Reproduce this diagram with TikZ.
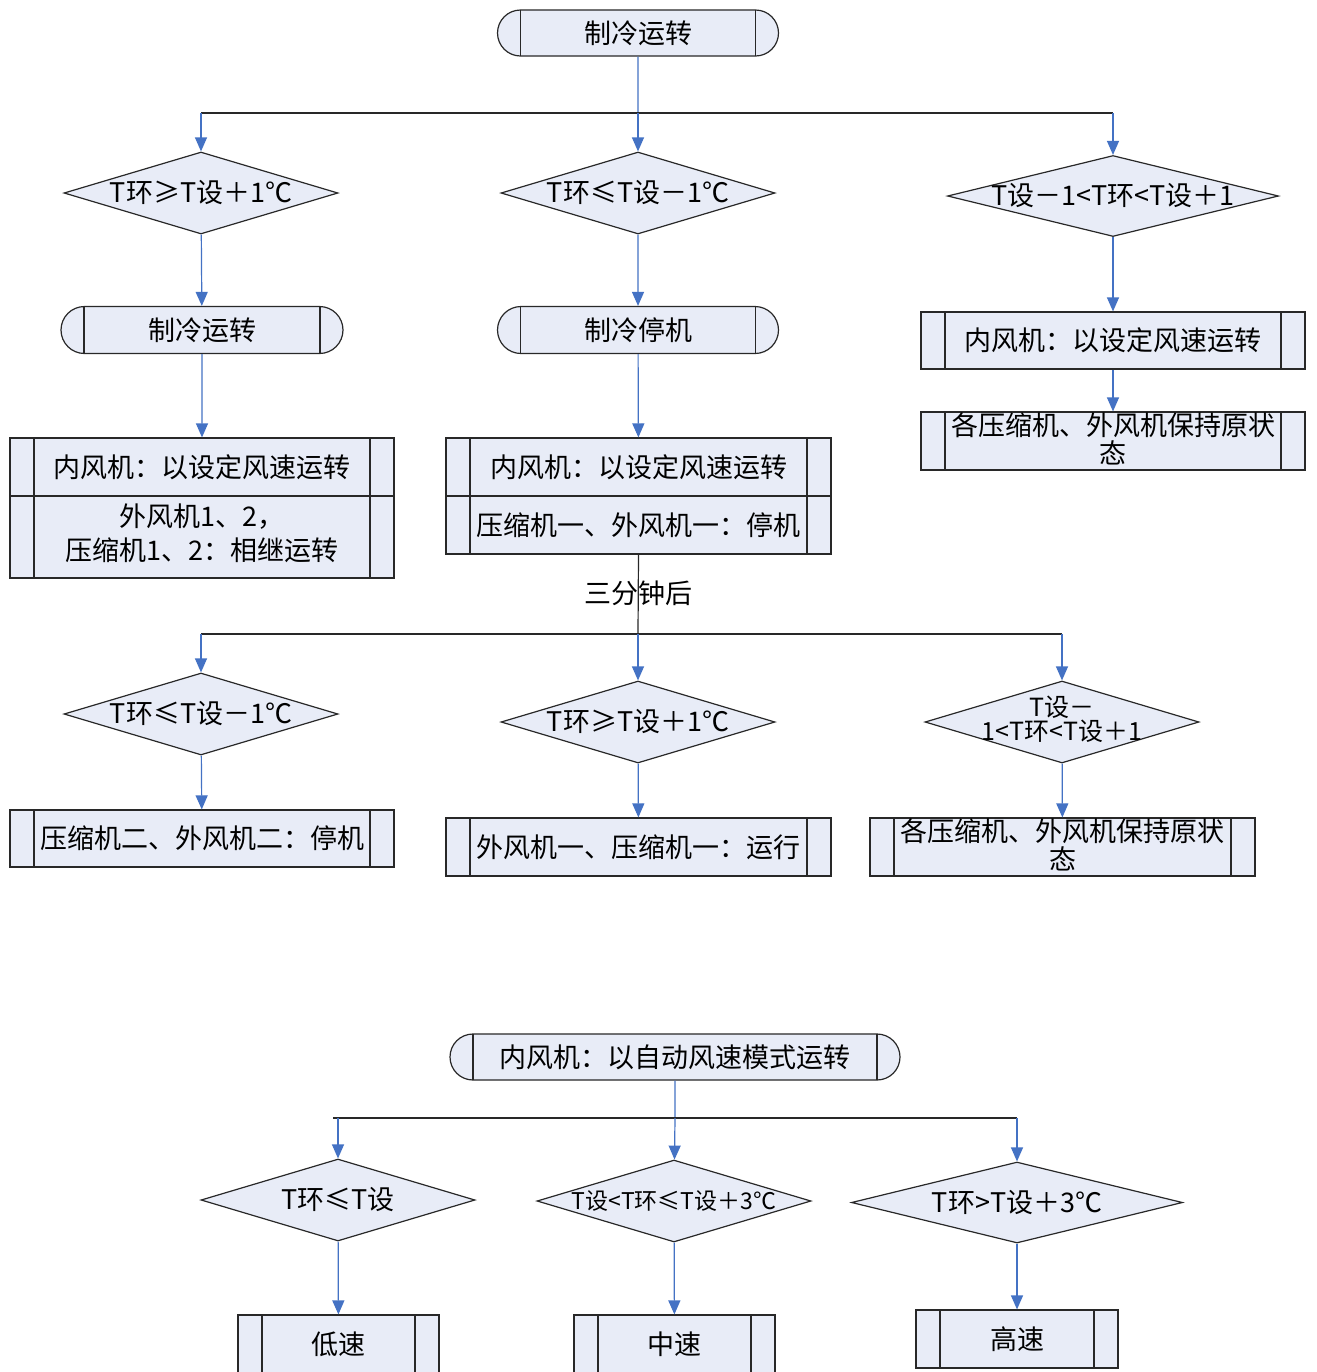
\documentclass[tikz,border=0pt]{standalone}
\usepackage{fontspec}
\setmainfont{Noto Sans CJK SC}
\usetikzlibrary{shapes.geometric,shapes.misc,arrows.meta}
\definecolor{fillc}{RGB}{232,236,247}
\definecolor{bluec}{RGB}{68,114,196}
\definecolor{linec}{RGB}{40,40,40}
\tikzset{
  x=0.5pt, y=-0.5pt,
  every node/.style={font=\fontsize{13.5pt}{17pt}\selectfont, text=black},
  term/.style={rounded rectangle, draw=linec, line width=0.6pt, fill=fillc, inner sep=0pt, minimum height=23pt,
    path picture={\draw[linec, line width=0.6pt]
      ([xshift=11.5pt]path picture bounding box.north west) -- ([xshift=11.5pt]path picture bounding box.south west)
      ([xshift=-11.5pt]path picture bounding box.north east) -- ([xshift=-11.5pt]path picture bounding box.south east);}},
  proc/.style={rectangle, draw=linec, line width=0.6pt, fill=fillc, inner sep=0pt, align=center,
    path picture={\draw[linec, line width=0.6pt]
      ([xshift=12pt]path picture bounding box.north west) -- ([xshift=12pt]path picture bounding box.south west)
      ([xshift=-12pt]path picture bounding box.north east) -- ([xshift=-12pt]path picture bounding box.south east);}},
  dia/.style={diamond, draw=linec, line width=0.6pt, fill=fillc, inner sep=0pt, minimum width=137pt, minimum height=41pt},
  conn/.style={draw=bluec, line width=0.6pt, -{Triangle[width=6pt,length=7pt]}},
  vline/.style={draw=bluec, line width=0.6pt},
  hline/.style={draw=linec, line width=0.6pt},
}
\begin{document}
\begin{tikzpicture}
\useasboundingbox[fill=white] (0,0) rectangle (1317,1372);

% ---------- top part ----------
\node[term, minimum width=140.5pt] (t0) at (638,33) {制冷运转};
\coordinate (j1) at (638,113);
\coordinate (j1l) at (201,113);
\coordinate (j1r) at (1113,113);

\node[dia] (d1) at (201,193) {\makebox[0pt]{T环≥T设＋1℃}};
\node[dia] (d2) at (638,193) {\makebox[0pt]{T环≤T设－1℃}};
\node[dia, minimum width=165.5pt, minimum height=40.5pt] (d3) at (1113,196) {\makebox[0pt]{T设－1<T环<T设＋1}};

\node[term, minimum width=141pt, minimum height=23.5pt] (t1) at (202,330) {制冷运转};
\node[term, minimum width=140.5pt, minimum height=23.5pt] (t2) at (638,330) {制冷停机};
\node[proc, minimum width=192pt, minimum height=28.5pt] (p3) at (1113,340.5) {内风机：以设定风速运转};
\node[proc, minimum width=192pt, minimum height=29pt] (p4) at (1113,441)
  {\smash{\raisebox{-4.5pt}{\begin{tabular}{@{}c@{}}各压缩机、外风机保持原状\\[-3pt]态\end{tabular}}}};

\node[proc, minimum width=192pt, minimum height=29pt] (pL1) at (202,467) {内风机：以设定风速运转};
\node[proc, minimum width=192pt, minimum height=41pt] (pL2) at (202,537)
  {\begin{tabular}{@{}c@{}}外风机1、2，\\压缩机1、2：相继运转\end{tabular}};
\node[proc, minimum width=192.5pt, minimum height=29pt] (pM1) at (638.5,467) {内风机：以设定风速运转};
\node[proc, minimum width=192.5pt, minimum height=29pt] (pM2) at (638.5,525) {压缩机一、外风机一：停机};

\draw[vline] (t0) -- (j1);
\draw[hline] (j1l) -- (j1r);
\draw[conn] (j1) -- (d2);
\draw[conn] (j1l) -- (d1);
\draw[conn] (j1r) -- (d3);
\draw[conn] (d1) -- (t1);
\draw[conn] (d2) -- (t2);
\draw[conn] (d3) -- (p3);
\draw[conn] (p3) -- (p4);
\draw[conn] (t1) -- (pL1);
\draw[conn] (t2) -- (pM1);

% ---------- after three minutes ----------
\coordinate (j2) at (638,634);
\coordinate (j2l) at (201,634);
\coordinate (j2r) at (1062,634);
\node (lab) at (638,593) {三分钟后};
\draw[hline] (pM2.south) -- (j2);
\draw[hline] (j2l) -- (j2r);

\node[dia] (e1) at (201,714) {\makebox[0pt]{T环≤T设－1℃}};
\node[dia] (e2) at (638,722) {\makebox[0pt]{T环≥T设＋1℃}};
\node[dia] (e3) at (1062,722)
  {\makebox[0pt]{\fontsize{12.5pt}{15pt}\selectfont\begin{tabular}{@{}c@{}}T设－\\[-3pt]1<T环<T设＋1\end{tabular}}};

\node[proc, minimum width=192pt, minimum height=28.5pt] (q1) at (202,838.5) {压缩机二、外风机二：停机};
\node[proc, minimum width=192.5pt, minimum height=29pt] (q2) at (638.5,847) {外风机一、压缩机一：运行};
\node[proc, minimum width=192.5pt, minimum height=29pt] (q3) at (1062.5,847)
  {\smash{\raisebox{-4.5pt}{\begin{tabular}{@{}c@{}}各压缩机、外风机保持原状\\[-3pt]态\end{tabular}}}};

\draw[conn] (j2l) -- (e1);
\draw[conn] (j2) -- (e2);
\draw[conn] (j2r) -- (e3);
\draw[conn] (e1) -- (q1);
\draw[conn] (e2) -- (q2);
\draw[conn] (e3) -- (q3);

% ---------- indoor fan auto mode ----------
\node[term, minimum width=225pt] (t3) at (675,1057) {内风机：以自动风速模式运转};
\coordinate (j3) at (675,1118);
\coordinate (j3l) at (333,1118);
\coordinate (j3a) at (338,1118);
\coordinate (j3r) at (1017,1118);
\draw[vline] (t3) -- (j3);
\draw[hline] (j3l) -- (j3r);

\node[dia] (f1) at (338,1200) {\makebox[0pt]{T环≤T设}};
\node[dia] (f2) at (674,1201) {\makebox[0pt]{\fontsize{11.5pt}{14pt}\selectfont T设<T环≤T设＋3℃}};
\node[dia, minimum width=165.5pt, minimum height=40.5pt] (f3) at (1017,1202.5) {\makebox[0pt]{T环>T设＋3℃}};

\node[proc, minimum width=100.5pt, minimum height=29pt] (r1) at (338.5,1344) {低速};
\node[proc, minimum width=100.5pt, minimum height=29pt] (r2) at (674.5,1344) {中速};
\node[proc, minimum width=101pt, minimum height=29pt] (r3) at (1017,1339) {高速};

\draw[conn] (j3a) -- (f1);
\draw[conn] (j3) -- (f2);
\draw[conn] (j3r) -- (f3);
\draw[conn] (f1) -- (r1);
\draw[conn] (f2) -- (r2);
\draw[conn] (f3) -- (r3);
\end{tikzpicture}
\end{document}
